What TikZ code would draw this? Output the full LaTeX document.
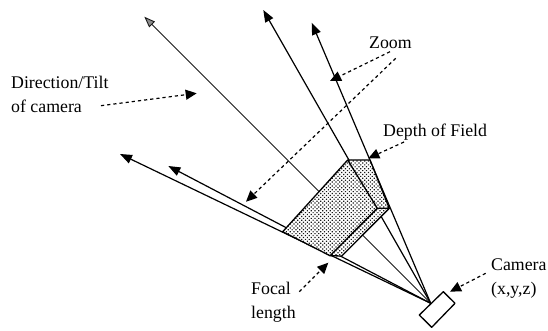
\documentclass[tikz,border=0pt]{standalone}
\usepackage{fontspec}
\setmainfont{Liberation Serif}
\usetikzlibrary{arrows.meta,patterns.meta}

\begin{document}
\begin{tikzpicture}[x=1pt,y=-1pt,every node/.style={font=\fontsize{17.8}{24}\selectfont,align=left,inner sep=0pt,anchor=north west},ray/.style={-{Triangle[length=12pt,width=9pt]},line width=1.2pt},axis/.style={-{Triangle[length=11pt,width=8pt,fill=black!45]},line width=.9pt,black!90},note/.style={-{Triangle[length=11pt,width=10pt]},line width=1.2pt,dash pattern=on 3.2pt off 3pt},edge/.style={line width=1.3pt,line join=round}]
\useasboundingbox (0,0) rectangle (548,331);
\coordinate (apex) at (430.7,303.3);
\coordinate (tipa) at (144.3,16.7);
\coordinate (tipb) at (263.3,10);
\coordinate (tipc) at (311.7,22.7);
\coordinate (tipd) at (120,154);
\coordinate (tipe) at (168.3,166);
\coordinate (fa) at (347.7,160);
\coordinate (fb) at (370,160);
\coordinate (fc) at (389.3,208.3);
\coordinate (fd) at (377.3,208.3);
\coordinate (fe) at (341.7,256);
\coordinate (ff) at (330,255.7);
\coordinate (fg) at (282.7,231.7);
% camera and rays
\draw[edge,fill=white] (443.3,291.7) coordinate (ca) -- (455,303.3) -- (431.7,327.3) -- (419.3,315) -- cycle;
\draw[axis] (apex) -- (tipa);
\draw[ray] (apex) -- (tipb);
\draw[ray] (apex) -- (tipc);
\draw[ray] (apex) -- (tipd);
\draw[ray] (apex) -- (tipe);
% shaded volume
\fill[white] (fa) -- (fb) -- (fc) -- (fe) -- (ff) -- (fg) -- cycle;
\fill[pattern={Dots[radius=.85pt,distance=2.7pt,angle=45]},pattern color=black!90] (fa) -- (fb) -- (fc) -- (fe) -- (ff) -- (fg) -- cycle;
\draw[edge] (fa) -- (fb) -- (fc) -- (fd) -- (fa) -- (fg) -- (ff) -- (fd);
\draw[edge] (fc) -- (fe) -- (ff);
% labels
\node (tilt) at (11,76) {Direction/Tilt\\of camera};
\node (zoom) at (369,37) {Zoom};
\node (depth) at (383,124) {Depth of Field};
\node (focal) at (251,282) {Focal\\length};
\node (camera) at (491,259) {Camera\\(x,y,z)};
\coordinate (ntilt) at (101,105.7);
\coordinate (ttilt) at (196.7,93.3);
\coordinate (nzooma) at (390,51.7);
\coordinate (tzooma) at (330,81);
\coordinate (nzoomb) at (395.7,58.3);
\coordinate (tzoomb) at (246,201.7);
\coordinate (ndepth) at (404,142);
\coordinate (tdepth) at (368.3,158.3);
\coordinate (nfocal) at (299.3,291.7);
\coordinate (tfocal) at (328.3,262.7);
\coordinate (ncamera) at (485.7,273.3);
\coordinate (tcamera) at (450,291.7);
\draw[note] (ntilt) -- (ttilt);
\draw[note] (nzooma) -- (tzooma);
\draw[note] (nzoomb) -- (tzoomb);
\draw[note] (ndepth) -- (tdepth);
\draw[note] (nfocal) -- (tfocal);
\draw[note] (ncamera) -- (tcamera);
\end{tikzpicture}
\end{document}
